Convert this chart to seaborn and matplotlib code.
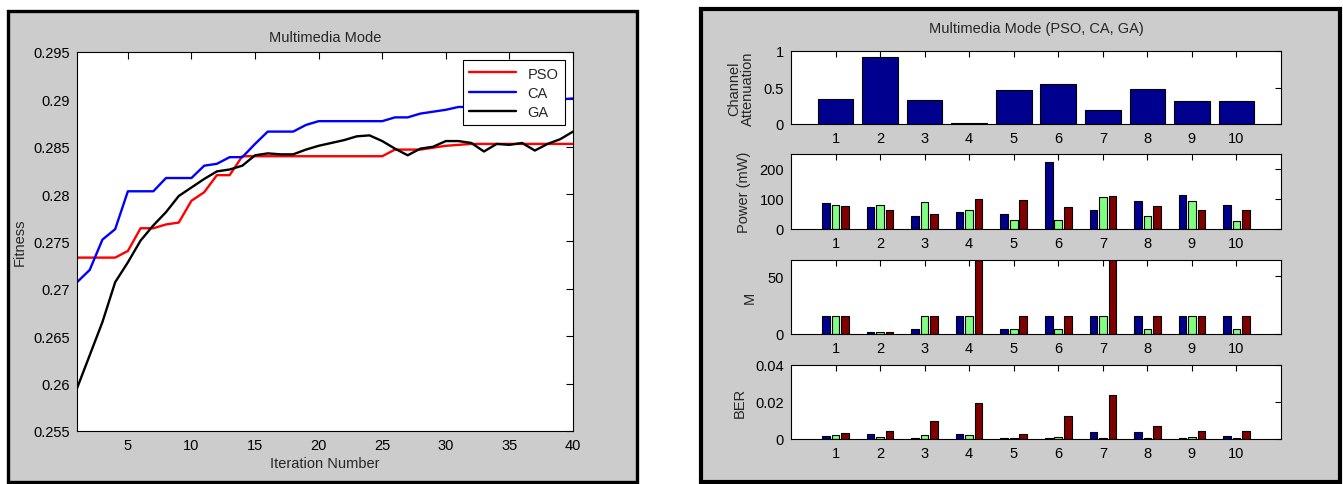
import matplotlib
matplotlib.use("Agg")
import matplotlib.pyplot as plt
from matplotlib.patches import Rectangle
import numpy as np
import pandas as pd
import seaborn as sns

# ---------------- data ----------------
iterations = list(range(1, 41))
algorithms = ["PSO", "CA", "GA"]

fitness_pso = [0.2733, 0.2733, 0.2733, 0.2733, 0.2740, 0.2764, 0.2764, 0.2768, 0.2770, 0.2793,
               0.2802, 0.2820, 0.2820, 0.2840, 0.2840, 0.2840, 0.2840, 0.2840, 0.2840, 0.2840,
               0.2840, 0.2840, 0.2840, 0.2840, 0.2840, 0.2847, 0.2847, 0.2847, 0.2849, 0.2851,
               0.2852, 0.2853, 0.2853, 0.2853, 0.2853, 0.2853, 0.2853, 0.2853, 0.2853, 0.2853]
fitness_ca = [0.2707, 0.2720, 0.2752, 0.2763, 0.2803, 0.2803, 0.2803, 0.2817, 0.2817, 0.2817,
              0.2830, 0.2832, 0.2839, 0.2839, 0.2853, 0.2866, 0.2866, 0.2866, 0.2873, 0.2877,
              0.2877, 0.2877, 0.2877, 0.2877, 0.2877, 0.2881, 0.2881, 0.2885, 0.2887, 0.2889,
              0.2892, 0.2892, 0.2893, 0.2895, 0.2896, 0.2897, 0.2898, 0.2899, 0.2900, 0.2901]
fitness_ga = [0.2595, 0.2630, 0.2665, 0.2707, 0.2728, 0.2751, 0.2767, 0.2781, 0.2798, 0.2807,
              0.2816, 0.2824, 0.2826, 0.2830, 0.2841, 0.2843, 0.2842, 0.2842, 0.2847, 0.2851,
              0.2854, 0.2857, 0.2861, 0.2862, 0.2856, 0.2848, 0.2841, 0.2848, 0.2850, 0.2856,
              0.2856, 0.2854, 0.2845, 0.2853, 0.2852, 0.2854, 0.2846, 0.2853, 0.2858, 0.2866]

fitness_xticks = [5, 10, 15, 20, 25, 30, 35, 40]
fitness_yticks = [0.255, 0.26, 0.265, 0.27, 0.275, 0.28, 0.285, 0.29, 0.295]
fitness_yticklabels = ["0.255", "0.26", "0.265", "0.27", "0.275", "0.28", "0.285", "0.29", "0.295"]

channels = list(range(1, 11))
attenuation = [0.34, 0.92, 0.33, 0.015, 0.46, 0.55, 0.19, 0.48, 0.32, 0.31]

power_pso = [88, 73, 43, 58, 51, 224, 63, 92, 115, 81]
power_ca = [81, 81, 89, 62, 31, 31, 107, 45, 92, 27]
power_ga = [78, 62, 51, 101, 97, 73, 110, 78, 65, 65]

m_pso = [16, 2, 4, 16, 4, 16, 16, 16, 16, 16]
m_ca = [16, 2, 16, 16, 4, 4, 16, 4, 16, 4]
m_ga = [16, 2, 16, 64, 16, 16, 64, 16, 16, 16]

ber_pso = [0.0018, 0.0025, 0.0008, 0.0025, 0.0004, 0.0005, 0.0039, 0.0039, 0.0005, 0.0018]
ber_ca = [0.0023, 0.0013, 0.0019, 0.0019, 0.0004, 0.0013, 0.0005, 0.0005, 0.0013, 0.0005]
ber_ga = [0.0032, 0.0045, 0.0098, 0.0196, 0.0025, 0.0123, 0.0239, 0.0068, 0.0045, 0.0045]

# ---------------- style ----------------
sns.set_style("white")
plt.rcParams["font.family"] = ["Liberation Sans", "DejaVu Sans"]
plt.rcParams["font.size"] = 10.5
plt.rcParams["axes.edgecolor"] = "black"
plt.rcParams["axes.linewidth"] = 0.8
plt.rcParams["xtick.color"] = "black"
plt.rcParams["ytick.color"] = "black"

line_colors = {"PSO": "#ff0000", "CA": "#0000ff", "GA": "#000000"}
bar_colors = {"PSO": "#00008f", "CA": "#80ff80", "GA": "#800000"}
panel_gray = "#cccccc"

W, H = 1343, 485
fig = plt.figure(figsize=(W / 100, H / 100), dpi=100, facecolor="white")


def px_rect(x0, y0, x1, y1):
    """Figure-fraction rectangle [left, bottom, width, height] from pixel box."""
    return [x0 / W, (H - y1) / H, (x1 - x0) / W, (y1 - y0) / H]


# gray window panels with dark frames
for (x0, y0, x1, y1), lw in [((8, 12, 637, 483), 2.4), ((701, 10, 1340, 483), 3.0)]:
    r = px_rect(x0, y0, x1, y1)
    fig.add_artist(Rectangle((r[0], r[1]), r[2], r[3], transform=fig.transFigure,
                             facecolor=panel_gray, edgecolor="black", linewidth=lw, zorder=0))


def matlab_ticks(ax, length=5):
    ax.tick_params(direction="in", top=True, right=True, length=length, width=0.8,
                   labelsize=10.5, pad=5)


# ---------------- left: fitness curves ----------------
ax = fig.add_axes(px_rect(77, 53, 573, 432))
fit_df = pd.DataFrame({
    "Iteration Number": iterations * 3,
    "Fitness": fitness_pso + fitness_ca + fitness_ga,
    "Algorithm": ["PSO"] * 40 + ["CA"] * 40 + ["GA"] * 40,
})
sns.lineplot(data=fit_df, x="Iteration Number", y="Fitness", hue="Algorithm",
             hue_order=algorithms, palette=line_colors, linewidth=1.7, ax=ax)
ax.set_xlim(1, 40)
ax.set_ylim(0.255, 0.295)
ax.set_xticks(fitness_xticks)
ax.set_yticks(fitness_yticks)
ax.set_yticklabels(fitness_yticklabels)
matlab_ticks(ax)
ax.set_title("Multimedia Mode", fontsize=10.5, pad=8)
ax.set_xlabel("Iteration Number", fontsize=10.5, labelpad=3)
ax.set_ylabel("Fitness", fontsize=10.5, labelpad=5)
sns.move_legend(ax, "upper right", title=None, frameon=True, fancybox=False,
                edgecolor="black", framealpha=1, fontsize=10.5, handlelength=3.2,
                borderaxespad=0.55, labelspacing=0.35, borderpad=0.45)
ax.get_legend().get_frame().set_linewidth(0.8)

# ---------------- right: per-channel bars ----------------
right_boxes = [(52, 125), (155, 230), (261, 335), (366, 440)]


def grouped_bars(ax, pso, ca, ga):
    df = pd.DataFrame({
        "Channel": channels * 3,
        "Value": pso + ca + ga,
        "Algorithm": ["PSO"] * 10 + ["CA"] * 10 + ["GA"] * 10,
    })
    sns.barplot(data=df, x="Channel", y="Value", hue="Algorithm", hue_order=algorithms,
                palette=bar_colors, native_scale=True, width=0.64, gap=0.2, saturation=1,
                edgecolor="black", linewidth=0.8, errorbar=None, legend=False, ax=ax)


axes_r = [fig.add_axes(px_rect(791, t, 1281, b)) for t, b in right_boxes]

a1 = axes_r[0]
sns.barplot(x=channels, y=attenuation, native_scale=True, width=0.8, color=bar_colors["PSO"],
            saturation=1, edgecolor="black", linewidth=0.8, errorbar=None, ax=a1)
a1.set_ylim(0, 1)
a1.set_yticks([0, 0.5, 1])
a1.set_yticklabels(["0", "0.5", "1"])
a1.set_ylabel("Channel\nAttenuation", fontsize=10.5, labelpad=6, linespacing=1.0)
a1.set_title("Multimedia Mode (PSO, CA, GA)", fontsize=10.5, pad=14)

a2 = axes_r[1]
grouped_bars(a2, power_pso, power_ca, power_ga)
a2.set_ylim(0, 250)
a2.set_yticks([0, 100, 200])
a2.set_ylabel("Power (mW)", fontsize=10.5, labelpad=6)

a3 = axes_r[2]
grouped_bars(a3, m_pso, m_ca, m_ga)
a3.set_ylim(0, 64)
a3.set_yticks([0, 50])
a3.set_ylabel("M", fontsize=10.5, labelpad=8)

a4 = axes_r[3]
grouped_bars(a4, ber_pso, ber_ca, ber_ga)
a4.set_ylim(0, 0.04)
a4.set_yticks([0, 0.02, 0.04])
a4.set_yticklabels(["0", "0.02", "0.04"])
a4.set_ylabel("BER", fontsize=10.5, labelpad=6)

for a in axes_r:
    a.set_xlim(0, 11)
    a.set_xticks(channels)
    a.set_xticklabels([str(c) for c in channels])
    a.set_xlabel("")
    a.set_facecolor("white")
    matlab_ticks(a, length=4)

fig.savefig("out.png", dpi=100, facecolor="white")
